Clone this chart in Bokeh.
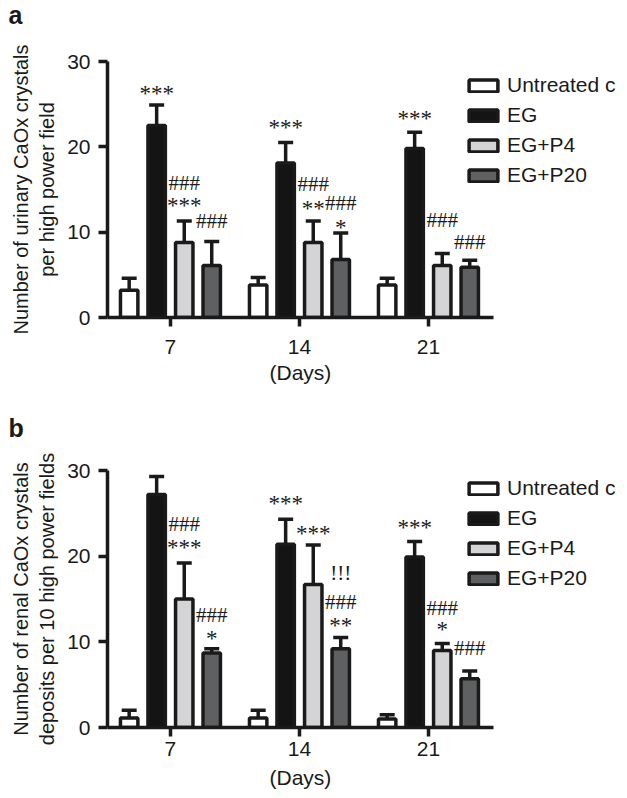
from bokeh.plotting import figure
from bokeh.layouts import column
from bokeh.models import (ColumnDataSource, FixedTicker, Legend, LegendItem, LabelSet,
                          Label, Title, Whisker, TeeHead, Range1d)
from bokeh.embed import file_html
from bokeh.resources import INLINE

days = ["7", "14", "21"]
series = ["Untreated c", "EG", "EG+P4", "EG+P20"]

# Panel a: urinary CaOx crystals per high power field (mean, mean+error)
a_untreated = [3.2, 3.8, 3.8]
a_eg = [22.5, 18.1, 19.8]
a_p4 = [8.8, 8.8, 6.1]
a_p20 = [6.1, 6.8, 5.9]
a_untreated_err = [4.6, 4.7, 4.6]
a_eg_err = [24.9, 20.5, 21.7]
a_p4_err = [11.3, 11.3, 7.5]
a_p20_err = [8.9, 9.9, 6.7]

# Panel b: renal CaOx crystal deposits per 10 high power fields
b_untreated = [1.1, 1.1, 1.0]
b_eg = [27.2, 21.4, 19.9]
b_p4 = [15.0, 16.7, 9.0]
b_p20 = [8.7, 9.2, 5.7]
b_untreated_err = [2.0, 2.0, 1.5]
b_eg_err = [29.3, 24.3, 21.7]
b_p4_err = [19.2, 21.3, 9.8]
b_p20_err = [9.2, 10.5, 6.6]

# significance marks: (day index, series index, text, level)
a_marks = [
    (0, 1, "***", 26.8), (0, 2, "###", 15.8), (0, 2, "***", 13.7), (0, 3, "###", 11.3),
    (1, 1, "***", 22.9), (1, 2, "###", 15.7), (1, 2, "**", 13.4), (1, 3, "###", 13.4),
    (1, 3, "*", 11.1),
    (2, 1, "***", 23.9), (2, 2, "###", 11.4), (2, 3, "###", 8.8),
]
b_marks = [
    (0, 1, "***", 31.6), (0, 2, "###", 23.8), (0, 2, "***", 21.6), (0, 3, "###", 13.1),
    (0, 3, "*", 11.0),
    (1, 1, "***", 26.7), (1, 2, "***", 23.2), (1, 3, "!!!", 18.0), (1, 3, "###", 14.6),
    (1, 3, "**", 12.5),
    (2, 1, "***", 23.9), (2, 2, "###", 14.0), (2, 2, "*", 12.0), (2, 3, "###", 9.3),
]

y_ticks = [0, 10, 20, 30]

FONT = "Liberation Sans"
INK = "#1a1a1a"
fills = ["#ffffff", "#141414", "#d4d4d6", "#5e6062"]
offsets = [-0.32, -0.107, 0.107, 0.32]
BAR_W = 0.135
LW = 3.5

W = 627
FRAME_L = 107
PX_PER_X = 129.0          # pixels per day-group
X0, X1 = -0.488, 2.504    # extent of the drawn x axis
X_END = X0 + (W - FRAME_L) / PX_PER_X   # frame runs to the right edge (room for legend)
AXIS_W = (X1 - X0) * PX_PER_X


def make_panel(letter, ylabel, means, errs, marks, height, top, bottom, legend_bottom,
               tick_standoff, days_standoff, letter_y):
    p = figure(width=W, height=height, x_range=Range1d(X0, X_END),
               y_range=Range1d(0, 30), output_backend="svg", toolbar_location=None,
               min_border_left=FRAME_L, min_border_right=0,
               min_border_top=top, min_border_bottom=bottom)
    p.outline_line_color = None
    p.xgrid.visible = False
    p.ygrid.visible = False
    p.background_fill_color = None
    p.border_fill_color = "white"

    # panel letter in the top-left corner
    p.add_layout(Label(x=-FRAME_L + 8, y=top + 5 - letter_y, x_units="screen", y_units="screen",
                       text=letter, text_font=FONT, text_font_style="bold",
                       text_font_size="25px", text_color=INK,
                       text_baseline="alphabetic", text_align="left"), "above")

    renderers = []
    for s in range(4):
        xs = [g + offsets[s] for g in range(len(days))]
        src = ColumnDataSource(dict(x=xs, top=means[s], err=errs[s]))
        w = Whisker(source=src, base="x", lower="top", upper="err", dimension="height",
                    line_width=LW, line_color=INK,
                    upper_head=TeeHead(size=15, line_width=LW, line_color=INK),
                    lower_head=None)
        p.add_layout(w)
        r = p.vbar(x="x", top="top", width=BAR_W, bottom=0, source=src,
                   fill_color=fills[s], line_color=INK, line_width=LW)
        renderers.append(r)

    mx, my, mt, mo, mf = [], [], [], [], []
    for g, s, t, lvl in marks:
        mx.append(g + offsets[s])
        my.append(lvl)
        mt.append(t)
        star = "*" in t
        mo.append(-5 if star else 0)
        mf.append("23px" if star else "21px")
    msrc = ColumnDataSource(dict(x=mx, y=my, text=mt, yo=mo, fs=mf))
    p.add_layout(LabelSet(x="x", y="y", text="text", y_offset="yo", source=msrc,
                          text_align="center", text_baseline="middle",
                          text_font=FONT, text_font_size="fs", text_color=INK))

    legend = Legend(items=[LegendItem(label=series[i], renderers=[renderers[i]]) for i in range(4)],
                    location=(358, legend_bottom))
    legend.glyph_width = 36
    legend.glyph_height = 15
    legend.label_height = 15
    legend.spacing = 6
    legend.label_standoff = 6
    legend.padding = 0
    legend.margin = 0
    legend.border_line_alpha = 0
    legend.background_fill_alpha = 0
    legend.label_text_font = FONT
    legend.label_text_font_size = "21px"
    legend.label_text_color = INK
    legend.label_text_baseline = "middle"
    p.add_layout(legend)

    for ax in (p.xaxis[0], p.yaxis[0]):
        ax.axis_line_width = LW
        ax.axis_line_color = INK
        ax.major_tick_line_width = LW
        ax.major_tick_line_color = INK
        ax.major_tick_out = 9
        ax.major_tick_in = 0
        ax.minor_tick_line_color = None
        ax.major_label_text_font = FONT
        ax.major_label_text_font_size = "21px"
        ax.major_label_text_color = INK
        ax.axis_label_text_font = FONT
        ax.axis_label_text_font_style = "normal"
        ax.axis_label_text_color = INK

    p.xaxis.bounds = (X0, X1)
    p.xaxis.ticker = FixedTicker(ticks=list(range(len(days))))
    p.xaxis.major_label_overrides = {i: d for i, d in enumerate(days)}
    p.xaxis.major_label_standoff = tick_standoff

    # x-axis title, centred under the drawn part of the axis
    days_w = 62
    p.add_layout(Title(text="(Days)", align="left", offset=AXIS_W / 2 - days_w / 2,
                       text_font=FONT, text_font_size="21px", text_font_style="normal",
                       text_color=INK, standoff=days_standoff), "below")

    p.yaxis.ticker = FixedTicker(ticks=y_ticks)
    p.yaxis.axis_label = ylabel
    p.yaxis.axis_label_text_font_size = "20px"
    p.yaxis.major_label_standoff = 8
    p.yaxis.axis_label_standoff = 6
    return p


pa = make_panel("a", "Number of urinary CaOx crystals\nper high power field",
                [a_untreated, a_eg, a_p4, a_p20],
                [a_untreated_err, a_eg_err, a_p4_err, a_p20_err],
                a_marks, 390, 61, 73, 130, 13, 5, 19)
pb = make_panel("b", "Number of renal CaOx crystals\ndeposits per 10 high power fields",
                [b_untreated, b_eg, b_p4, b_p20],
                [b_untreated_err, b_eg_err, b_p4_err, b_p20_err],
                b_marks, 408, 80, 71, 137, 5, 10, 42)

layout = column(pa, pb, spacing=0)
open("out.html", "w").write(file_html(layout, INLINE))
